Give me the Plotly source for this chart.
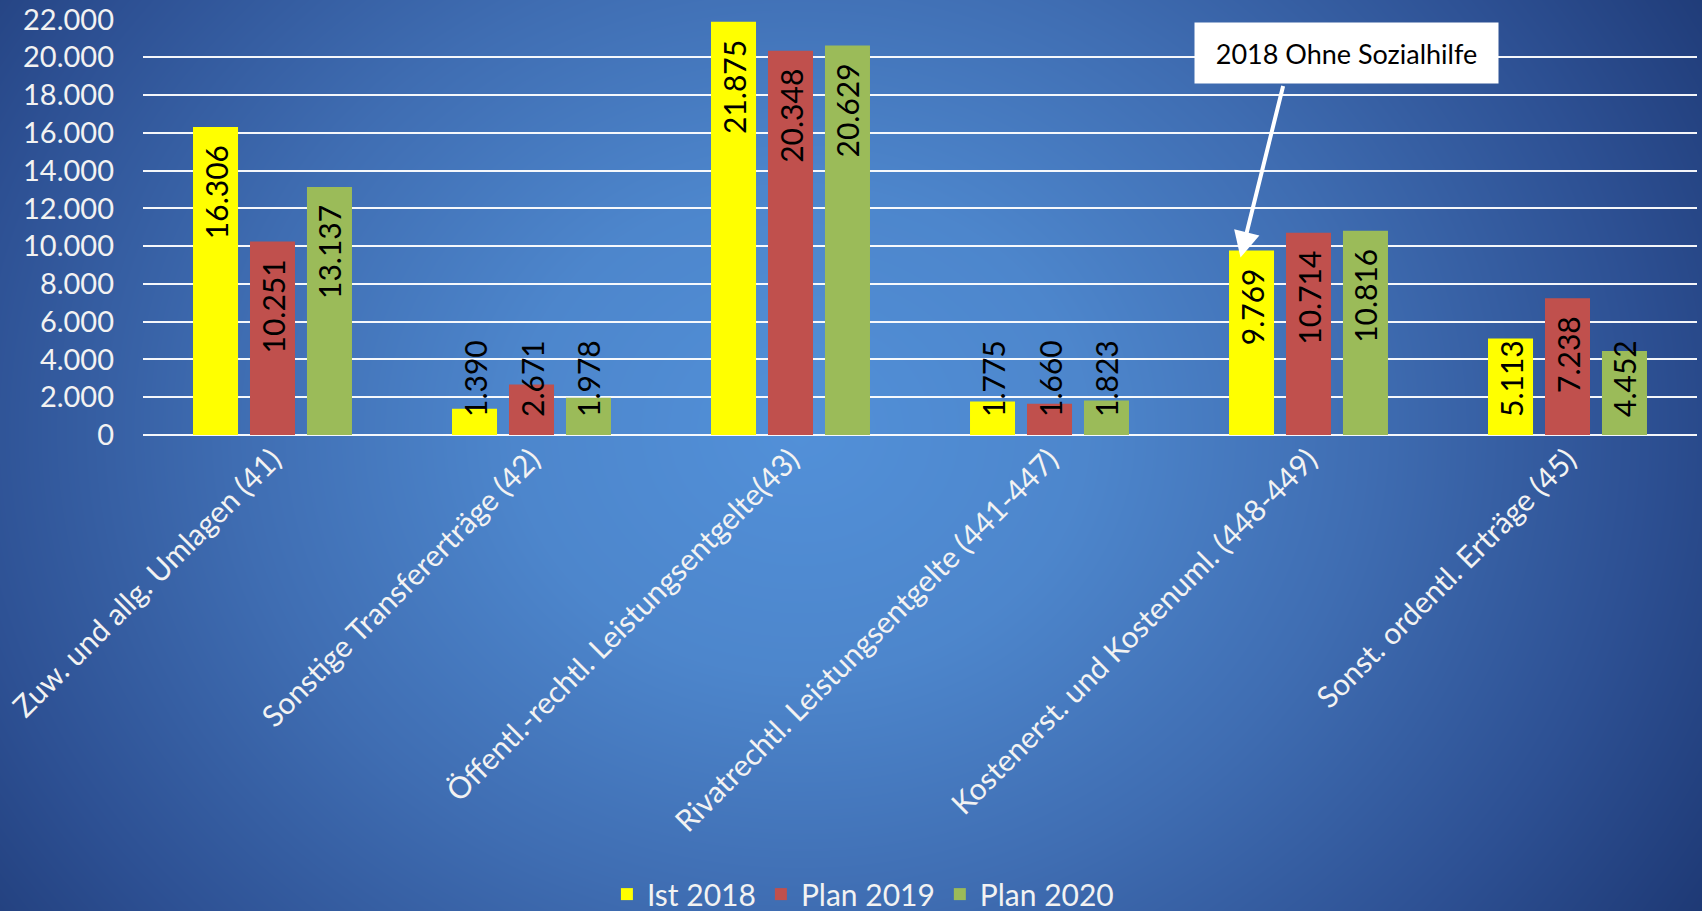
import numpy as np
import plotly.graph_objects as go

# ---------------- data ----------------
categories = [
    "Zuw. und allg. Umlagen (41)",
    "Sonstige Transfererträge (42)",
    "Öffentl.-rechtl. Leistungsentgelte(43)",
    "Rivatrechtl. Leistungsentgelte (441-447)",
    "Kostenerst. und Kostenuml. (448-449)",
    "Sonst. ordentl. Erträge (45)",
]
ist_2018 = [16306, 1390, 21875, 1775, 9769, 5113]
plan_2019 = [10251, 2671, 20348, 1660, 10714, 7238]
plan_2020 = [13137, 1978, 20629, 1823, 10816, 4452]
series_names = ["Ist 2018", "Plan 2019", "Plan 2020"]
y_ticks = [0, 2000, 4000, 6000, 8000, 10000, 12000, 14000, 16000, 18000, 20000, 22000]
note_text = "2018 Ohne Sozialhilfe"
note_category_index = 4

# ---------------- style ----------------
W, H = 1702, 911
colors = ["#FFFF00", "#C0504D", "#9BBB59"]
FONT = "Lato"
FS_LABEL = 30
LABEL_MIN = 6000  # below this the label is anchored at the bar base
PAD = "\u2002"    # en space used as label padding


def fmt(v):
    return f"{v:,}".replace(",", ".")


fig = go.Figure()

# background gradient (decorative) on its own full-figure subplot
gx = np.linspace(-40, W + 40, 90)
gy = np.linspace(-40, H + 40, 50)
X, Y = np.meshgrid(gx, gy)
cx, cy = 800, 430
d = np.sqrt(((X - cx) / 1.0) ** 2 + ((Y - cy) / 0.85) ** 2)
d = d / d.max()
fig.add_trace(go.Heatmap(
    x=gx, y=gy, z=d, zsmooth="best", showscale=False, hoverinfo="skip",
    colorscale=[[0, "#5290d8"], [0.25, "#4d86cc"], [0.5, "#3f6db2"],
                [0.75, "#2d5093"], [1, "#1a336d"]],
    xaxis="x", yaxis="y",
))

for name, vals, col, grp in zip(series_names, [ist_2018, plan_2019, plan_2020], colors, ["a", "b", "c"]):
    fig.add_trace(go.Bar(
        name=name, x=categories, y=vals, marker=dict(color=col, line=dict(width=0)),
        offsetgroup=grp, legendgroup=grp,
        text=[fmt(v) + PAD if v >= LABEL_MIN else "" for v in vals],
        textposition="inside", insidetextanchor="end", textangle=-90,
        insidetextfont=dict(family=FONT, size=FS_LABEL, color="black"),
        constraintext="none", xaxis="x2", yaxis="y2",
    ))
    # transparent carrier for labels of short bars (anchored at bar base)
    fig.add_trace(go.Bar(
        name=name, x=categories, y=vals, marker=dict(color="rgba(0,0,0,0)", line=dict(width=0)),
        offsetgroup=grp, legendgroup=grp, showlegend=False, hoverinfo="skip",
        text=[PAD + fmt(v) if v < LABEL_MIN else "" for v in vals],
        textposition="inside", insidetextanchor="start", textangle=-90,
        insidetextfont=dict(family=FONT, size=FS_LABEL, color="black"),
        constraintext="none", xaxis="x2", yaxis="y2",
    ))

x0, x1 = 143 / W, 1697 / W
y0, y1 = (H - 435) / H, (H - 19.5) / H

fig.update_layout(
    width=W, height=H,
    margin=dict(l=0, r=0, t=0, b=0, autoexpand=False),
    paper_bgcolor="#2a4b8a",
    plot_bgcolor="rgba(0,0,0,0)",
    separators=",.",
    barmode="group", bargap=0.34, bargroupgap=0.21,
    font=dict(family=FONT, size=30, color="#f2f2f2"),
    xaxis=dict(domain=[0, 1], range=[0, W], visible=False, fixedrange=True),
    yaxis=dict(domain=[0, 1], range=[H, 0], visible=False, fixedrange=True),
    xaxis2=dict(domain=[x0, x1], anchor="y2", type="category", tickangle=-45,
                showgrid=False, showline=False, ticks="", automargin=False,
                tickfont=dict(family=FONT, size=30, color="#f2f2f2")),
    yaxis2=dict(domain=[y0, y1], anchor="x2", range=[0, 22000], tickvals=y_ticks,
                tickformat=",.0f", showgrid=True, gridcolor="rgba(255,255,255,0.95)",
                gridwidth=2, zeroline=True, zerolinecolor="rgba(255,255,255,0.95)",
                zerolinewidth=2, showline=False, ticks="", ticklabelstandoff=28,
                automargin=False, tickfont=dict(family=FONT, size=29, color="#f2f2f2")),
    legend=dict(orientation="h", xref="paper", yref="paper",
                x=0.507, xanchor="center", y=-0.01, yanchor="bottom",
                font=dict(family=FONT, size=30, color="#f2f2f2"),
                bgcolor="rgba(0,0,0,0)", traceorder="normal"),
    showlegend=True,
)

# note box
fig.add_annotation(
    xref="paper", yref="paper", x=1346.5 / W, y=(H - 53) / H,
    text=note_text, showarrow=False, bgcolor="white", width=299, height=56,
    borderpad=2, font=dict(family=FONT, size=27, color="black"),
    xanchor="center", yanchor="middle",
)
# arrow from note box to the Ist 2018 bar of the category
fig.add_annotation(
    xref="x2", yref="y2", x=categories[note_category_index], y=ist_2018[note_category_index],
    xshift=-68, yshift=-7, text="", showarrow=True, ax=43, ay=-173,
    arrowcolor="white", arrowwidth=4, arrowhead=2, arrowsize=1.3,
)

fig.write_html(
    "out.html",
    config={"displayModeBar": False},
    post_script="document.body.style.margin='0';document.body.style.overflow='hidden';",
)
